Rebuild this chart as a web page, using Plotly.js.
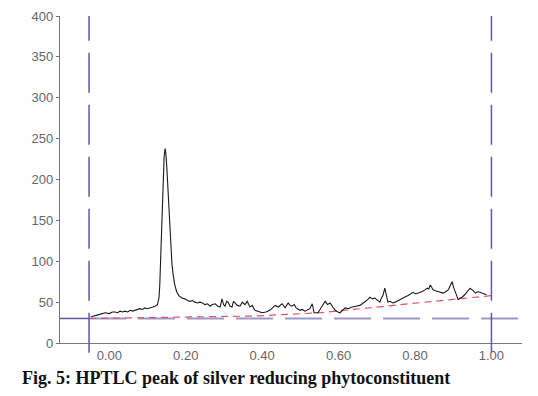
<!DOCTYPE html>
<html>
<head>
<meta charset="utf-8">
<script src="https://cdn.plot.ly/plotly-3.0.1.min.js"></script>
<style>html,body{margin:0;padding:0;background:#fff;}#chart{width:538px;height:396px;}</style>
</head>
<body>
<div id="chart"></div>
<script>
// Densitogram (Rf vs intensity)
const rf = [-0.048,-0.037,-0.025,-0.011,0.0,0.008,0.015,0.022,0.028,0.035,0.041,0.048,0.055,0.061,0.067,0.074,0.08,0.087,0.093,0.1,0.107,0.113,0.12,0.126,0.13,0.132,0.134,0.136,0.1385,0.141,0.1435,0.146,0.148,0.1505,0.153,0.155,0.157,0.159,0.161,0.164,0.167,0.171,0.176,0.182,0.19,0.198,0.205,0.211,0.218,0.224,0.231,0.237,0.244,0.25,0.257,0.264,0.27,0.277,0.284,0.29,0.295,0.299,0.303,0.307,0.311,0.316,0.321,0.325,0.329,0.335,0.342,0.348,0.355,0.361,0.368,0.374,0.381,0.39,0.4,0.41,0.42,0.427,0.434,0.442,0.447,0.452,0.46,0.468,0.473,0.478,0.484,0.489,0.499,0.505,0.512,0.518,0.525,0.531,0.536,0.546,0.552,0.557,0.565,0.571,0.578,0.585,0.591,0.598,0.604,0.61,0.617,0.626,0.635,0.645,0.656,0.662,0.669,0.676,0.682,0.689,0.695,0.702,0.708,0.712,0.716,0.721,0.725,0.729,0.735,0.742,0.748,0.755,0.762,0.769,0.776,0.782,0.789,0.795,0.802,0.808,0.814,0.819,0.826,0.832,0.836,0.84,0.844,0.847,0.853,0.86,0.867,0.874,0.881,0.887,0.892,0.897,0.901,0.905,0.909,0.913,0.918,0.923,0.93,0.936,0.944,0.952,0.958,0.965,0.971,0.978,0.987,0.996];
const intensity = [32,33,35,37,36,38,38,37,39,38,39,38,40,39,40,41,42,41,43,42,43,44,45,47,55,70,98,130,170,205,228,238,232,215,190,175,150,128,110,96,84,72,63,58,55,54,52,51,52,50,49,50,49,47,48,45,47,48,45,44,54,47,45,51,50,45,44,51,49,46,45,50,47,51,44,46,40,39,37,38,40,43,46,44,46,48,43,49,46,45,47,43,40,41,39,40,42,48,37,37,42,46,51,47,49,44,40,38,37,40,43,42,44,45,46,48,50,53,56,54,55,52,50,55,58,67,60,50,51,49,50,52,54,55,57,58,60,62,60,61,62,63,65,67,66,71,68,65,64,63,62,61,63,65,70,75,68,62,56,53,55,56,59,62,67,64,61,63,62,60,59];

// Baseline (red dashed)
const baseRf = [-0.053,0.38,0.55,1.0];
const baseVal = [30,33,37,58];

// Start / end markers and reference level
const markerRf = [-0.053, 1.0];
const refLevel = 30;

const xTicks = [0,0.2,0.4,0.6,0.8,1.0];
const xTickText = ["0.00","0.20","0.40","0.60","0.80","1.00"];
const yTicks = [0,50,100,150,200,250,300,350,400];
const caption = "Fig. 5: HPTLC peak of silver reducing phytoconstituent";

const xRange = [-0.129, 1.080];

const traces = [
  {x:[xRange[0], markerRf[0]], y:[refLevel, refLevel], mode:'lines', line:{color:'#5a5aa0', width:1.5}, hoverinfo:'skip'},
  {x:[markerRf[0], xRange[1]], y:[refLevel, refLevel], mode:'lines', line:{color:'#9c98c8', width:2, dash:'37px,12px'}, hoverinfo:'skip'},
  {x:baseRf, y:baseVal, mode:'lines', line:{color:'#e0506a', width:1.2, dash:'7px,5px'}, hoverinfo:'skip'},
  {x:rf, y:intensity, mode:'lines', line:{color:'#1a1a1a', width:1.1}, hoverinfo:'skip'}
];

const shapes = markerRf.map(v => ({
  type:'line', xref:'x', yref:'paper', x0:v, x1:v, y0:-0.03, y1:1,
  line:{color:'#5a5aa6', width:1.5, dash:'40px,12px'}, layer:'above'
}));

const layout = {
  width:538, height:396,
  margin:{l:60, r:16, t:16, b:53},
  paper_bgcolor:'#fff', plot_bgcolor:'#fff',
  showlegend:false,
  font:{family:'Liberation Sans, Arial, sans-serif', color:'#666', size:13},
  xaxis:{range:xRange, tickvals:xTicks, ticktext:xTickText, showgrid:false, zeroline:false,
         showline:true, linecolor:'#777', linewidth:1.2, ticks:'', tickfont:{size:13, color:'#666'}},
  yaxis:{range:[0,400], tickvals:yTicks, showgrid:false, zeroline:false,
         showline:true, linecolor:'#777', linewidth:1.2, ticks:'outside', ticklen:3, tickcolor:'#777',
         tickfont:{size:13, color:'#666'}},
  shapes:shapes,
  annotations:[{text:'<b>'+caption+'</b>', xref:'paper', yref:'paper', x:-0.0866, y:-0.107,
    xanchor:'left', yanchor:'middle', showarrow:false,
    font:{family:'Liberation Serif, Times New Roman, serif', size:18, color:'#111'}}]
};

Plotly.newPlot('chart', traces, layout, {staticPlot:true, displayModeBar:false});
</script>
</body>
</html>
